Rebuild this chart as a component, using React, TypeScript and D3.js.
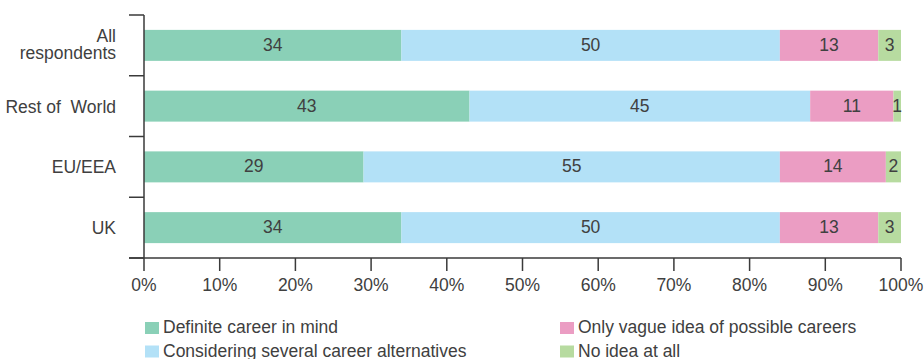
import React from "react";
import * as d3 from "d3";

const categories = ["All respondents", "Rest of World", "EU/EEA", "UK"];
const categoryLines = [["All", "respondents"], ["Rest of  World"], ["EU/EEA"], ["UK"]];
const seriesNames = [
  "Definite career in mind",
  "Considering several career alternatives",
  "Only vague idea of possible careers",
  "No idea at all",
];
const definite = [34, 43, 29, 34];
const considering = [50, 45, 55, 50];
const vague = [13, 11, 14, 13];
const noIdea = [3, 1, 2, 3];
const xTicks = [0, 10, 20, 30, 40, 50, 60, 70, 80, 90, 100];
const colors = ["#8AD0B7", "#B3E1F7", "#EB9DC3", "#B7DBA0"];

const W = 924;
const H = 359;
const FONT = "'Liberation Sans', Arial, sans-serif";
const TEXT = "#404040";
const AXIS = "#3a3a3a";
const FS = 17.5;

export default function App() {
  const x = d3.scaleLinear().domain([0, 100]).range([144, 901]);
  const y = d3.scaleBand<string>().domain(categories).range([15, 258]).paddingInner(0.49).paddingOuter(0.245);

  const rows = categories.map((c, i) => ({
    cat: c,
    definite: definite[i],
    considering: considering[i],
    vague: vague[i],
    noIdea: noIdea[i],
  }));
  const keys = ["definite", "considering", "vague", "noIdea"];
  const stack = d3.stack<any>().keys(keys)(rows);

  const bw = y.bandwidth();
  const boundaries = [...categories.map((c) => (y(c) as number) - (y.step() - bw) / 2), 258];

  const legend = [
    { i: 0, x: 145, y: 322 },
    { i: 1, x: 145, y: 345.5 },
    { i: 2, x: 560, y: 322 },
    { i: 3, x: 560, y: 345.5 },
  ];

  return (
    <svg width={W} height={H} style={{ position: "absolute", left: 0, top: 0, background: "#fff" }} fontFamily={FONT}>
      {stack.map((s, si) => (
        <g key={si}>
          {s.map((d, di) => {
            const cat = categories[di];
            const x0 = x(d[0]);
            const x1 = x(d[1]);
            const yy = y(cat) as number;
            return (
              <g key={di}>
                <rect x={x0} y={yy} width={x1 - x0} height={bw} fill={colors[si]} />
                <text
                  x={(x0 + x1) / 2}
                  y={yy + bw / 2 + 5.5}
                  textAnchor="middle"
                  fontSize={FS}
                  fill={TEXT}
                >
                  {d[1] - d[0]}
                </text>
              </g>
            );
          })}
        </g>
      ))}

      {/* Y axis */}
      <line x1={144} x2={144} y1={15} y2={258} stroke={AXIS} strokeWidth={1.5} />
      {boundaries.map((b, i) => (
        <line key={i} x1={129} x2={144} y1={b} y2={b} stroke={AXIS} strokeWidth={1.5} />
      ))}
      {categories.map((c, i) => {
        const cy = (y(c) as number) + bw / 2;
        const lines = categoryLines[i];
        const lh = 16.5;
        const start = cy + 6.5 - ((lines.length - 1) * lh) / 2 - (lines.length > 1 ? 1.5 : 0);
        return (
          <text key={c} textAnchor="end" fontSize={FS} fill={TEXT} style={{ whiteSpace: "pre" }}>
            {lines.map((l, li) => (
              <tspan key={li} x={116} y={start + li * lh}>
                {l}
              </tspan>
            ))}
          </text>
        );
      })}

      {/* X axis */}
      <line x1={129} x2={901} y1={258} y2={258} stroke={AXIS} strokeWidth={1.5} />
      {xTicks.map((t) => (
        <g key={t}>
          <line x1={x(t)} x2={x(t)} y1={258} y2={271} stroke={AXIS} strokeWidth={1.5} />
          <text x={x(t)} y={291} textAnchor="middle" fontSize={FS} fill={TEXT}>
            {t}%
          </text>
        </g>
      ))}

      {/* Legend */}
      {legend.map((l) => (
        <g key={l.i}>
          <rect x={l.x} y={l.y} width={14} height={12} fill={colors[l.i]} />
          <text x={l.x + 18} y={l.y + 11} fontSize={FS} fill={TEXT}>
            {seriesNames[l.i]}
          </text>
        </g>
      ))}
    </svg>
  );
}
